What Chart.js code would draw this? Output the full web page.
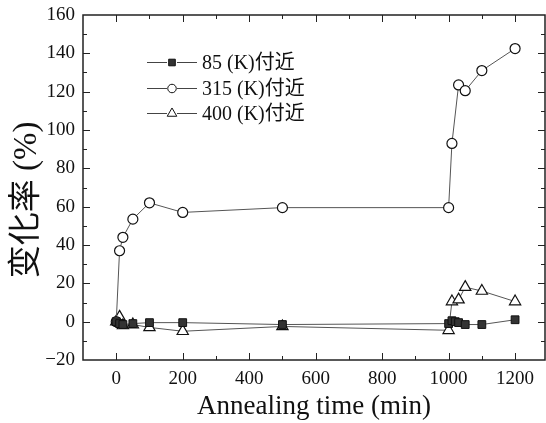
<!DOCTYPE html>
<html><head><meta charset="utf-8">
<script src="https://cdn.jsdelivr.net/npm/chart.js@4.4.0/dist/chart.umd.min.js"></script>
<style>html,body{margin:0;padding:0;background:#fff}#wrap{width:546px;height:423px}</style>
</head><body><div id="wrap"><canvas id="c" width="546" height="423"></canvas></div>
<script>
const seriesNames = ["85 (K)付近", "315 (K)付近", "400 (K)付近"];
const t85  = [0, 10, 20, 50, 100, 200, 500, 1000, 1010, 1020, 1030, 1050, 1100, 1200];
const v85  = [0, -1, -1.5, -1, -0.5, -0.5, -1.5, -1, 0.5, 0, -0.5, -1.5, -1.5, 1];
const t315 = [0, 10, 20, 50, 100, 200, 500, 1000, 1010, 1030, 1050, 1100, 1200];
const v315 = [0, 37, 44, 53.5, 62, 57, 59.5, 59.5, 93, 123.5, 120.5, 131, 142.5];
const t400 = [0, 10, 20, 50, 100, 200, 500, 1000, 1010, 1030, 1050, 1100, 1200];
const v400 = [0, 2.5, -2, -1.5, -3, -5, -2.5, -4.5, 10.5, 11.5, 18, 16, 10.5];
const xTicks = [0, 200, 400, 600, 800, 1000, 1200];
const yTicks = [-20, 0, 20, 40, 60, 80, 100, 120, 140, 160];
const xTitle = "Annealing time (min)";
const yTitle = "变化率 (%)\u00a0\u00a0\u00a0";

const SERIF = '"Liberation Serif","DejaVu Serif","Noto Sans CJK JP",serif';
const pts = (t, v) => t.map((x, i) => ({x, y: v[i]}));

const inwardTicks = {
  id: 'inwardTicks',
  afterDraw(chart) {
    const {ctx, chartArea: a, scales: {x, y}} = chart;
    ctx.save();
    ctx.strokeStyle = '#222';
    ctx.lineWidth = 1.5;
    ctx.strokeRect(a.left, a.top, a.right - a.left, a.bottom - a.top);
    ctx.lineWidth = 1;
    ctx.beginPath();
    for (let v = -100; v <= 1300; v += 100) {
      const p = Math.round(x.getPixelForValue(v)) + 0.5;
      if (p < a.left + 1 || p > a.right - 1) continue;
      const L = (v % 200 === 0) ? 7 : 4;
      ctx.moveTo(p, a.bottom); ctx.lineTo(p, a.bottom - L);
      ctx.moveTo(p, a.top); ctx.lineTo(p, a.top + L);
    }
    for (let v = -20; v <= 160; v += 10) {
      const p = Math.round(y.getPixelForValue(v)) + 0.5;
      if (p < a.top + 1 || p > a.bottom - 1) continue;
      const L = (v % 20 === 0) ? 7 : 4;
      ctx.moveTo(a.left, p); ctx.lineTo(a.left + L, p);
      ctx.moveTo(a.right, p); ctx.lineTo(a.right - L, p);
    }
    ctx.stroke();
    ctx.restore();
  }
};

const customLegend = {
  id: 'customLegend',
  afterDraw(chart) {
    const {ctx} = chart;
    ctx.save();
    const x0 = 147, x1 = 197, mx = 172;
    const rows = [62, 88, 113];
    chart.data.datasets.forEach((ds, i) => {
      const yy = rows[i] + 0.5;
      ctx.strokeStyle = '#444'; ctx.lineWidth = 1;
      ctx.beginPath(); ctx.moveTo(x0, yy); ctx.lineTo(mx - 5, yy);
      ctx.moveTo(mx + 5, yy); ctx.lineTo(x1, yy); ctx.stroke();
      ctx.fillStyle = ds.pointBackgroundColor;
      ctx.strokeStyle = '#111';
      Chart.helpers.drawPoint(ctx, {pointStyle: ds.pointStyle, radius: ds.pointRadius * 0.85, borderWidth: 1}, mx, yy);
      ctx.fillStyle = '#111';
      ctx.font = '20px ' + SERIF;
      ctx.textBaseline = 'middle';
      ctx.fillText(ds.label, 202, yy + 1);
    });
    ctx.restore();
  }
};

new Chart(document.getElementById('c'), {
  type: 'line',
  data: {
    datasets: [
      {label: seriesNames[0], data: pts(t85, v85), borderColor: '#555', borderWidth: 1,
       pointStyle: 'rect', pointRadius: 5.5, pointBackgroundColor: '#333', pointBorderColor: '#111', pointBorderWidth: 1},
      {label: seriesNames[1], data: pts(t315, v315), borderColor: '#555', borderWidth: 1,
       pointStyle: 'circle', pointRadius: 5, pointBackgroundColor: '#fff', pointBorderColor: '#111', pointBorderWidth: 1.2},
      {label: seriesNames[2], data: pts(t400, v400), borderColor: '#555', borderWidth: 1,
       pointStyle: 'triangle', pointRadius: 6.5, pointBackgroundColor: '#fff', pointBorderColor: '#111', pointBorderWidth: 1.2}
    ]
  },
  options: {
    responsive: false, animation: false,
    layout: {autoPadding: false, padding: {top: 15, right: 1, left: 0, bottom: 0}},
    plugins: {legend: {display: false}, tooltip: {enabled: false}},
    scales: {
      x: {
        type: 'linear', min: -100, max: 1290,
        afterBuildTicks: s => { s.ticks = xTicks.map(v => ({value: v})); },
        afterFit: s => { s.height = 63; s.paddingLeft = 0; s.paddingRight = 0; },
        grid: {display: false, drawTicks: false},
        border: {display: false},
        ticks: {color: '#111', font: {family: SERIF, size: 19}, padding: 8, maxRotation: 0,
                callback: v => String(v)},
        title: {display: true, text: xTitle, color: '#111', font: {family: SERIF, size: 27}, padding: {top: 0, bottom: 0}}
      },
      y: {
        type: 'linear', min: -20, max: 160,
        afterBuildTicks: s => { s.ticks = yTicks.map(v => ({value: v})); },
        afterFit: s => { s.width = 83; s.paddingTop = 0; s.paddingBottom = 0; },
        grid: {display: false, drawTicks: false},
        border: {display: false},
        ticks: {color: '#111', font: {family: SERIF, size: 19}, padding: 8,
                callback: v => String(v).replace('-', '\u2212')},
        title: {display: true, text: yTitle, color: '#111', font: {family: SERIF, size: 33}, padding: {top: 8, bottom: 0}}
      }
    }
  },
  plugins: [inwardTicks, customLegend]
});
</script></body></html>
